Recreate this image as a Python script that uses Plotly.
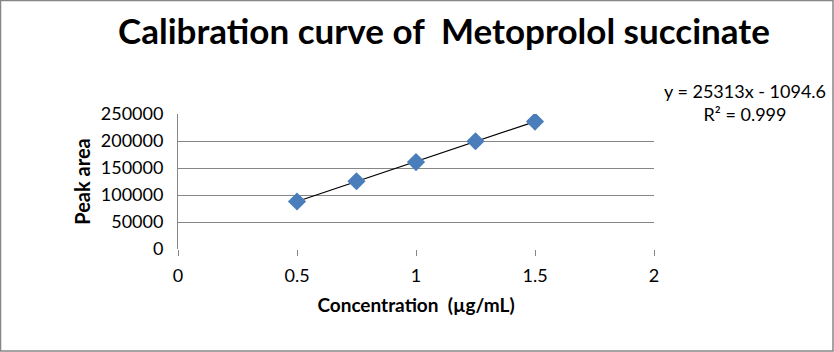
import numpy as np
import plotly.graph_objects as go

concentration = [0.5, 0.75, 1.0, 1.25, 1.5]
peak_area = [88000, 125500, 161000, 199500, 236000]
x_ticks = [0, 0.5, 1, 1.5, 2]
y_ticks = [0, 50000, 100000, 150000, 200000, 250000]
title_text = "Calibration curve of  Metoprolol succinate"
x_title = "Concentration  (µg/mL)"
y_title = "Peak area"
equation_text = "y = 25313x - 1094.6<br>R² = 0.999"

W, H = 834, 352
L, R, T, B = 178, 180, 114, 103
pw, ph = W - L - R, H - T - B

slope, intercept = np.polyfit(concentration, peak_area, 1)
fit_x = [concentration[0], concentration[-1]]
fit_y = [slope * v + intercept for v in fit_x]

fig = go.Figure()
fig.add_trace(go.Scatter(x=fit_x, y=fit_y, mode="lines",
                         line=dict(color="black", width=1.2), showlegend=False))
fig.add_trace(go.Scatter(x=concentration, y=peak_area, mode="markers",
                         marker=dict(symbol="diamond", size=14, color="#4a7ebb",
                                     line=dict(width=0)),
                         showlegend=False))

def px(xp):
    return (xp - L) / pw

def py(yp):
    return (H - B - yp) / ph

fig.update_layout(
    width=W, height=H,
    margin=dict(l=L, r=R, t=T, b=B),
    paper_bgcolor="white", plot_bgcolor="white",
    font=dict(family="Lato, Calibri, sans-serif", color="black"),
    title=dict(text=title_text, x=px(444), xref="paper", xanchor="center",
               y=1 - 32 / H, yanchor="middle",
               font=dict(size=35, family="Lato, sans-serif", weight="bold", color="black")),
    xaxis=dict(range=[0, 2], tickvals=x_ticks, ticktext=[str(v) for v in x_ticks],
               showgrid=False, zeroline=False, showline=False,
               ticks="outside", ticklen=6, tickcolor="#868686",
               tickfont=dict(size=18), ticklabelstandoff=4,
               title=dict(text=x_title, font=dict(size=19, weight="bold"), standoff=14)),
    yaxis=dict(range=[0, 250000], tickvals=y_ticks, ticktext=[str(v) for v in y_ticks],
               showgrid=True, gridcolor="#868686", gridwidth=1,
               zeroline=False, showline=True, linecolor="#868686", linewidth=1,
               ticks="", tickfont=dict(size=18), ticklabelstandoff=10,
               title=dict(text=y_title, font=dict(size=20, weight="bold"), standoff=4)),
    annotations=[dict(text=equation_text, x=px(745), y=py(102), xref="paper", yref="paper",
                      showarrow=False, xanchor="center", yanchor="middle",
                      font=dict(size=18, family="Lato, sans-serif", color="black"),
                      align="center")],
    shapes=[dict(type="rect", xref="paper", yref="paper",
                 x0=px(0.5), x1=px(833), y0=py(351), y1=py(0.5),
                 line=dict(color="#868686", width=1.5), fillcolor="rgba(0,0,0,0)")],
)

fig.write_html("out.html")
